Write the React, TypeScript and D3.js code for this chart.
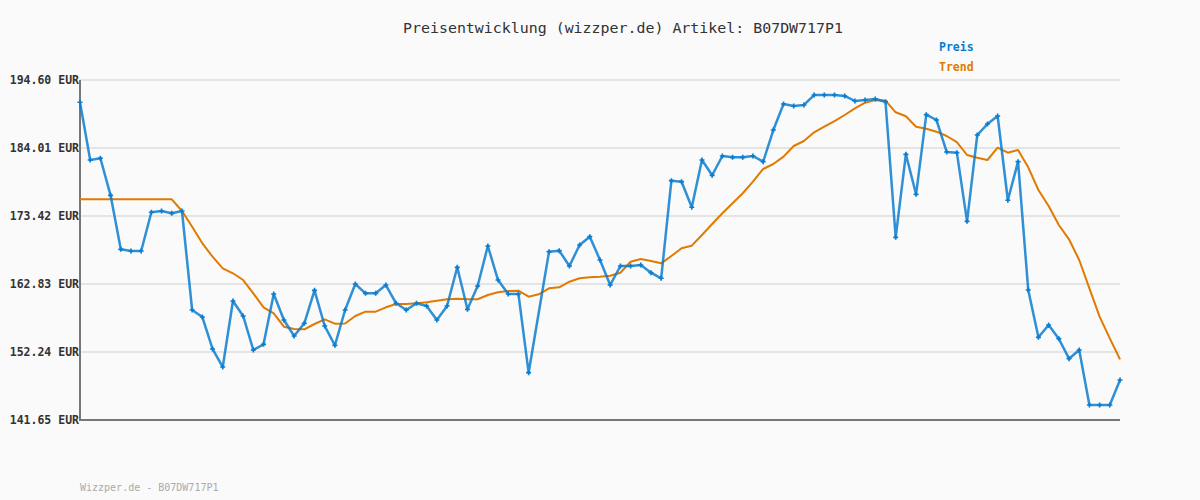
import React from "react";
import * as d3 from "d3";

const title = "Preisentwicklung (wizzper.de) Artikel: B07DW717P1";
const footer = "Wizzper.de - B07DW717P1";
const yTicks = [141.65, 152.24, 162.83, 173.42, 184.01, 194.6];

const price: (number | null)[] = [
  191.13, 182.14, 182.41, 176.64, 168.23, 167.97, 167.97, 174.0, 174.2, 173.84,
  174.2, 158.78, 157.69, 152.71, 149.9, 160.18, 157.85, 152.55, 153.44, 161.27,
  157.22, 154.73, 156.71, 161.85, 156.29, 153.28, 158.78, 162.83, 161.38, 161.38,
  162.67, 159.82, 158.78, 159.82, 159.4, 157.22, 159.4, 165.43, 158.89, 162.52,
  168.75, 163.45, 161.27, 161.27, 149.02, null, 167.86, 168.02, 165.63, 168.9,
  170.2, 166.57, 162.67, 165.63, 165.63, 165.79, 164.59, 163.72, 178.92, 178.76,
  174.78, 182.14, 179.76, 182.76, 182.56, 182.56, 182.76, 181.88, 186.81, 190.86,
  190.55, 190.71, 192.26, 192.26, 192.26, 192.11, 191.33, 191.49, 191.64, 191.22,
  170.1, 183.03, 176.8, 189.2, 188.37, 183.39, 183.28, 172.59, 186.03, 187.75,
  188.99, 175.87, 181.88, 161.9, 154.53, 156.45, 154.31, 151.2, 152.55, 143.99,
  143.99, 143.99, 147.88,
];

const trend: number[] = [
  176.02, 176.02, 176.02, 176.02, 176.02, 176.02, 176.02, 176.02, 176.02, 176.02,
  174.2, 171.75, 169.17, 167.08, 165.27, 164.5, 163.45, 161.38, 159.2, 158.27,
  156.18, 155.82, 155.77, 156.6, 157.33, 156.65, 156.68, 157.85, 158.52, 158.52,
  159.2, 159.72, 159.72, 159.82, 159.98, 160.23, 160.45, 160.54, 160.45, 160.45,
  161.12, 161.54, 161.74, 161.79, 160.85, 161.23, 162.16, 162.32, 163.19, 163.72,
  163.87, 163.97, 164.12, 164.59, 166.3, 166.72, 166.41, 166.05, 167.19, 168.39,
  168.8, 170.46, 172.17, 173.84, 175.4, 176.96, 178.76, 180.74, 181.52, 182.66,
  184.32, 185.1, 186.46, 187.33, 188.21, 189.15, 190.19, 191.06, 191.49, 191.38,
  189.57, 188.95, 187.33, 187.02, 186.55, 185.88, 184.94, 182.92, 182.5, 182.14,
  184.06, 183.28, 183.7, 181.0, 177.47, 174.98, 172.02, 169.79, 166.57, 162.16,
  157.74, 154.37, 151.1,
];

const W = 1200;
const H = 500;
const left = 80;
const right = 1120;
const top = 80;
const bottom = 420;

const BLUE = "#0b7dcf";
const ORANGE = "#e07a00";

export default function App() {
  const x = d3.scaleLinear().domain([0, price.length - 1]).range([left, right]);
  const y = d3.scaleLinear().domain([yTicks[0], yTicks[yTicks.length - 1]]).range([bottom, top]);

  const pricePts = price
    .map((v, i) => ({ i, v }))
    .filter((d) => d.v !== null) as { i: number; v: number }[];

  const priceLine = d3
    .line<{ i: number; v: number }>()
    .x((d) => x(d.i))
    .y((d) => y(d.v))(pricePts) as string;

  const trendLine = d3
    .line<number>()
    .x((_, i) => x(i))
    .y((d) => y(d))(trend) as string;

  const cross = d3.symbol().type(d3.symbolCross).size(14)() as string;

  return (
    <svg
      width={W}
      height={H}
      style={{ position: "absolute", left: 0, top: 0, background: "#fafafa" }}
    >
      <rect x={0} y={0} width={W} height={H} fill="#fafafa" />
      <text
        x={403}
        y={33}
        fontFamily="'DejaVu Sans Mono', monospace"
        fontSize={14}
        fill="#333"
        textLength={440}
        lengthAdjust="spacingAndGlyphs"
      >
        {title}
      </text>
      <text x={939} y={51} fontFamily="'DejaVu Sans Mono', monospace" fontSize={11.5} fontWeight="bold" fill={BLUE}>
        Preis
      </text>
      <text x={939} y={71} fontFamily="'DejaVu Sans Mono', monospace" fontSize={11.5} fontWeight="bold" fill={ORANGE}>
        Trend
      </text>
      {yTicks.map((t) => (
        <g key={t}>
          {t !== yTicks[0] && (
            <line x1={left} x2={right} y1={y(t)} y2={y(t)} stroke="#e4e4e4" strokeWidth={2} />
          )}
          <text
            x={79}
            y={y(t) + 4}
            textAnchor="end"
            fontFamily="'DejaVu Sans Mono', monospace"
            fontSize={11.5}
            fontWeight="bold"
            fill="#333"
          >
            {t.toFixed(2) + " EUR"}
          </text>
        </g>
      ))}
      <line x1={left} x2={left} y1={top} y2={bottom + 1} stroke="#777" strokeWidth={2} />
      <line x1={left - 1} x2={right} y1={bottom} y2={bottom} stroke="#777" strokeWidth={2} />
      <path d={trendLine} fill="none" stroke={ORANGE} strokeWidth={2} strokeLinejoin="round" />
      <path d={priceLine} fill="none" stroke={BLUE} strokeWidth={2.5} strokeLinejoin="round" opacity={0.85} />
      {pricePts.map((d) => (
        <path key={d.i} d={cross} transform={`translate(${x(d.i)},${y(d.v)})`} fill={BLUE} />
      ))}
      <text x={80} y={491} fontFamily="'DejaVu Sans Mono', monospace" fontSize={10} fill="#aaa">
        {footer}
      </text>
    </svg>
  );
}
